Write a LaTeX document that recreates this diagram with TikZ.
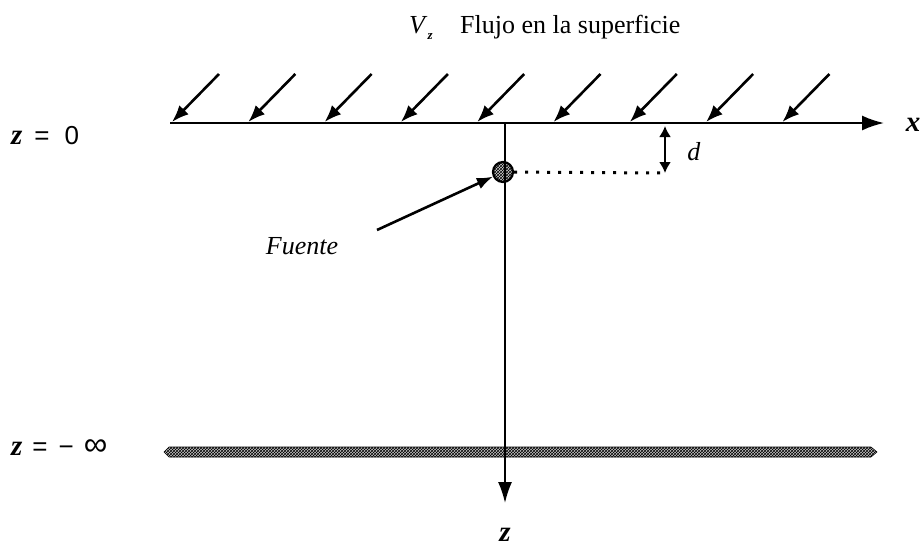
\documentclass[tikz,border=0pt]{standalone}
\usepackage{fontspec}
\setmainfont{Liberation Serif}
\newfontfamily\lblsans{Liberation Sans}
\usetikzlibrary{arrows.meta,patterns}

\tikzset{
  flux/.style={line width=2.6pt,-{Latex[length=17pt,width=13pt]}},
  axis/.style={line width=2pt,-{Latex[length=22pt,width=15pt]}},
  lbl/.style={font=\fontsize{26}{30}\selectfont},
  zlbl/.style={font=\fontsize{26}{30}\selectfont,anchor=west,inner sep=0pt},
  band/.style={draw=black,line width=0.6pt,preaction={fill=gray!45},
               pattern=crosshatch,pattern color=black}
}
\newcommand{\zvar}{{\fontsize{29}{30}\selectfont\textbf{\textit{z}}}}
\newcommand{\xvar}{{\fontsize{29}{30}\selectfont\textbf{\textit{x}}}}

\begin{document}
\begin{tikzpicture}[x=1pt,y=-1pt,>=Latex]
  \useasboundingbox (0,0) rectangle (924,547);

  % title
  \node[lbl,anchor=base west,inner sep=0pt] (vz) at (409,33)
    {\textit{V}\raisebox{-6pt}{\fontsize{13}{14}\selectfont\textit{\textbf{z}}}};
  \node[lbl,anchor=base west,inner sep=0pt] (flujo) at (460,33) {Flujo en la superficie};

  % surface z = 0 and axes
  \coordinate (orig) at (170,123);
  \coordinate (xtip) at (884,123);
  \coordinate (top) at (505,123);
  \coordinate (ztip) at (505,503);
  \draw[axis] (orig) -- (xtip);
  \node[zlbl] (zcero) at (11,136)
    {\zvar\hspace{12pt}\lblsans =\hspace{15pt}0};
  \node[lbl] (xlab) at (913,125) {\xvar};

  % incoming flux
  \foreach \i in {0,...,8}{
    \coordinate (h\i) at ({172+76.3*\i},122);
    \coordinate (t\i) at ({219+76.3*\i},74);
    \draw[flux] (t\i) -- (h\i);
  }

  % source
  \node[circle,draw,line width=2.2pt,minimum size=20pt,inner sep=0pt,
        preaction={fill=gray!35},pattern=crosshatch,pattern color=black] (src) at (503,172) {};
  \coordinate (dend) at (665,173);
  \coordinate (dtop) at (665,126);
  \draw[line width=3pt,dash pattern=on 3pt off 8pt] (src) -- (dend);
  \draw[line width=2pt,{Latex[length=11pt,width=12pt]}-{Latex[length=11pt,width=12pt]}] (dtop) -- (dend);
  \node[lbl] (dlab) at (694,152) {\textit{d}};

  \node[lbl] (fuente) at (302,246) {\textit{Fuente}};
  \coordinate (ftail) at (377,230);
  \draw[line width=2.6pt,-{Latex[length=16pt,width=12pt]}] (ftail) -- (src);

  % bottom z = -infinity
  \draw[band] (169,447) -- (871,447) -- (877,452) -- (871,457) -- (169,457) -- (164,452) -- cycle;
  \node[zlbl] (zinf) at (11,448)
    {\zvar\hspace{10pt}\lblsans =\hspace{11pt}\char"2212\hspace{10pt}{\fontsize{33}{34}\selectfont\char"221E}};

  % z axis
  \draw[axis,line width=1.8pt,-{Latex[length=21pt,width=14pt]}] (top) -- (ztip);
  \node[lbl] (zlab) at (505,535) {\zvar};
\end{tikzpicture}
\end{document}
